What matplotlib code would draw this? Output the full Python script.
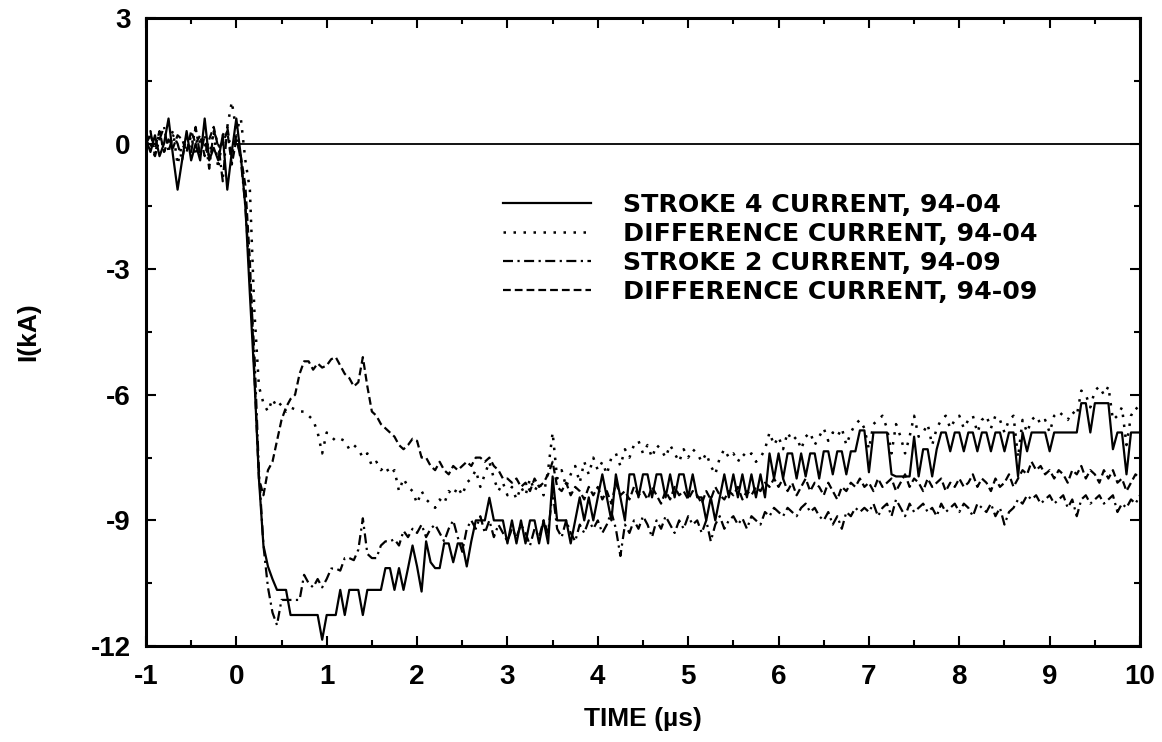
import matplotlib
matplotlib.use("Agg")
import matplotlib.pyplot as plt
import numpy as np
from matplotlib.ticker import MultipleLocator

plt.rcParams['font.family'] = ['Liberation Sans', 'DejaVu Sans']
plt.rcParams['font.weight'] = 'bold'
plt.rcParams['axes.unicode_minus'] = False

# time grid, 0.05 us per sample, -1 .. 10 us
t = np.linspace(-1, 10, 221)

# STROKE 4 CURRENT, 94-04 (solid)
stroke4 = [
    0.1, -0.2, 0.2, -0.3, 0.0, 0.6, -0.3, -1.1, -0.4, 0.3, -0.4, 0.0, -0.4, 0.6, -0.4, -0.1, -0.4, 0.2, -1.1, -0.2,
    0.6, -0.3, -1.5, -3.6, -5.6, -8.0, -9.6, -10.1, -10.4, -10.66, -10.66, -10.66, -11.26, -11.26, -11.26, -11.26, -11.26, -11.26, -11.26, -11.85,
    -11.26, -11.26, -11.26, -10.66, -11.26, -10.66, -10.66, -10.66, -11.26, -10.66, -10.66, -10.66, -10.66, -10.14, -10.14, -10.66, -10.14, -10.66, -10.14, -9.6,
    -10.1, -10.7, -9.5, -10.0, -10.14, -10.14, -9.55, -9.55, -10.0, -9.55, -9.55, -10.1, -9.5, -9.0, -9.0, -9.0, -8.46, -9.0, -9.0, -9.0,
    -9.55, -9.0, -9.55, -9.0, -9.55, -9.0, -9.0, -9.55, -9.0, -9.55, -7.95, -9.0, -9.0, -9.0, -9.55, -9.0, -8.45, -9.0, -8.45, -9.0,
    -8.45, -7.9, -8.45, -9.0, -7.9, -8.45, -9.0, -7.9, -7.9, -8.45, -7.9, -7.9, -8.45, -7.9, -7.9, -8.45, -7.9, -8.45, -7.9, -7.9,
    -8.45, -7.9, -8.45, -8.45, -9.0, -8.45, -9.0, -8.45, -7.9, -8.45, -7.9, -8.45, -7.9, -8.45, -7.9, -8.45, -7.9, -8.45, -7.4, -8.0,
    -7.4, -8.0, -7.4, -7.4, -8.0, -7.4, -7.95, -7.4, -7.4, -8.0, -7.35, -7.35, -7.9, -7.35, -7.35, -7.9, -7.35, -7.35, -6.85, -6.85,
    -7.85, -6.9, -6.9, -6.9, -6.9, -7.9, -7.95, -7.95, -7.95, -7.95, -7.0, -7.95, -7.3, -7.3, -7.95, -7.3, -6.9, -6.9, -7.35, -6.9,
    -6.9, -7.35, -6.9, -6.9, -7.35, -6.9, -6.9, -7.35, -6.9, -6.9, -7.35, -6.9, -6.9, -7.95, -6.9, -7.35, -6.9, -6.9, -6.9, -6.9,
    -7.35, -6.9, -6.9, -6.9, -6.9, -6.9, -6.9, -6.2, -6.2, -6.9, -6.2, -6.2, -6.2, -6.2, -7.3, -6.9, -6.9, -7.9, -6.9, -6.9,
    -6.9,
]

# DIFFERENCE CURRENT, 94-04 (dotted)
diff04 = [
    0.2, 0.0, -0.3, 0.3, -0.2, 0.1, 0.3, -0.5, 0.0, -0.2, 0.2, -0.3, 0.1, 0.0, -0.3, 0.3, -0.6, 0.2, 0.4, 1.0,
    0.3, 0.6, -0.4, -1.1, -4.0, -5.8, -6.2, -6.4, -6.1, -6.3, -6.2, -6.4, -6.3, -6.35, -6.4, -6.4, -6.5, -6.6, -6.9, -7.4,
    -6.9, -7.0, -7.1, -7.05, -7.1, -7.3, -7.2, -7.3, -7.5, -7.4, -7.7, -7.6, -7.8, -7.7, -7.9, -7.8, -8.3, -8.0, -8.2, -8.3,
    -8.6, -8.3, -8.5, -8.6, -8.7, -8.5, -8.6, -8.3, -8.4, -8.2, -8.4, -8.1, -8.0, -7.8, -8.2, -7.9, -7.6, -8.0, -8.3, -8.1,
    -8.4, -8.2, -8.5, -8.2, -8.4, -8.0, -8.3, -8.1, -8.4, -7.8, -6.9, -8.0, -7.8, -8.2, -7.9, -7.7, -8.1, -7.6, -7.9, -7.5,
    -7.8, -7.6, -7.9, -7.5, -7.4, -7.7, -7.3, -7.5, -7.2, -7.1, -7.4, -7.2, -7.5, -7.2, -7.3, -7.5, -7.2, -7.4, -7.6, -7.3,
    -7.5, -7.3, -7.4, -7.6, -7.4, -7.7, -7.9, -7.5, -7.3, -7.5, -7.4, -7.6, -7.4, -7.5, -7.4, -7.6, -7.5, -7.3, -6.9, -7.2,
    -7.0, -7.3, -6.9, -7.1, -7.0, -7.3, -7.0, -6.9, -7.2, -7.0, -6.8, -7.1, -6.9, -7.0, -6.8, -7.2, -6.9, -6.7, -6.6, -6.8,
    -7.3, -6.7, -6.6, -6.5, -6.8, -7.4, -6.7, -7.0, -7.4, -7.0, -6.5, -7.0, -6.9, -6.7, -7.2, -6.8, -6.6, -6.5, -6.8, -6.6,
    -6.5, -6.8, -6.6, -6.5, -6.9, -6.6, -6.5, -6.8, -6.5, -6.6, -6.9, -6.6, -6.5, -7.5, -6.6, -6.9, -6.6, -6.5, -6.7, -6.6,
    -6.9, -6.5, -6.4, -6.5, -6.6, -6.4, -6.5, -5.9, -6.0, -6.3, -5.9, -5.8, -6.0, -5.8, -6.6, -6.5, -6.3, -7.2, -6.5, -6.3,
    -6.4,
]

# STROKE 2 CURRENT, 94-09 (dash-dot)
stroke2 = [
    -0.2, 0.3, -0.3, 0.1, 0.4, -0.2, 0.2, 0.0, -0.4, 0.2, -0.2, 0.4, -0.3, 0.2, -0.6, 0.3, 0.0, -0.9, 0.4, -0.3,
    0.2, -0.4, -1.5, -3.2, -5.0, -7.8, -9.6, -10.6, -11.2, -11.5, -10.9, -10.9, -10.9, -10.9, -10.9, -10.3, -10.5, -10.6, -10.4, -10.6,
    -10.4, -10.15, -10.15, -10.2, -9.9, -9.9, -9.95, -9.7, -8.95, -9.8, -9.9, -9.9, -9.6, -9.5, -9.5, -9.45, -9.6, -9.25, -9.4, -9.2,
    -9.3, -9.1, -9.4, -9.2, -9.1, -9.3, -9.5, -9.2, -9.0, -9.4, -9.75, -9.2, -9.0, -9.2, -8.9, -9.3, -9.0, -9.4, -9.1, -9.3,
    -9.5, -9.2, -9.4, -9.1, -9.3, -9.6, -9.2, -9.4, -9.0, -9.3, -8.3, -9.2, -9.4, -9.0, -9.3, -9.5, -9.1, -9.3, -9.0, -9.2,
    -9.0, -9.3, -9.1, -8.8, -9.2, -9.85, -9.1, -9.3, -9.0, -9.2, -8.9, -9.1, -9.4, -9.0, -9.2, -8.9, -9.1, -9.3, -9.0, -9.2,
    -8.9, -9.1, -9.0, -9.3, -9.0, -9.5, -9.1, -8.9, -9.2, -9.0, -8.9, -9.1, -8.95, -9.2, -8.9, -9.0, -9.1, -8.8, -8.9, -8.7,
    -8.8, -8.9, -8.7, -8.8, -8.9, -8.7, -8.6, -8.8, -8.7, -8.9, -9.0, -8.8, -9.1, -8.9, -9.2, -8.8, -8.9, -8.7, -8.8, -8.7,
    -8.8, -8.6, -8.9, -8.7, -8.6, -8.9, -8.5, -8.7, -8.9, -8.6, -8.8, -8.7, -8.6, -8.8, -8.7, -8.9, -8.6, -8.8, -8.7, -8.6,
    -8.8, -8.6, -8.7, -8.9, -8.6, -8.7, -8.8, -8.6, -8.9, -8.7, -9.1, -8.8, -8.7, -8.5, -8.6, -8.4, -8.5, -8.4, -8.6, -8.5,
    -8.4, -8.6, -8.5, -8.4, -8.7, -8.5, -8.9, -8.5, -8.4, -8.6, -8.5, -8.4, -8.6, -8.5, -8.4, -8.8, -8.6, -8.7, -8.5, -8.6,
    -8.4,
]

# DIFFERENCE CURRENT, 94-09 (dashed)
diff09 = [
    0.0, 0.2, -0.1, 0.3, -0.2, 0.1, -0.1, 0.2, 0.1, -0.2, 0.3, 0.0, 0.2, -0.3, 0.1, 0.4, -0.1, 0.0, 0.3, -0.5,
    0.1, -0.3, -1.0, -2.8, -5.5, -8.0, -8.4, -7.8, -7.6, -7.1, -6.6, -6.3, -6.1, -6.0, -5.5, -5.2, -5.2, -5.4, -5.25, -5.35,
    -5.3, -5.15, -5.1, -5.3, -5.5, -5.6, -5.8, -5.7, -5.1, -5.8, -6.4, -6.5, -6.7, -6.8, -6.9, -7.0, -7.2, -7.3, -7.2, -7.05,
    -7.1, -7.5, -7.5, -7.7, -7.8, -7.6, -7.8, -7.9, -7.7, -7.8, -7.7, -7.6, -7.7, -7.5, -7.5, -7.6, -7.5, -7.7, -7.8, -8.0,
    -8.0, -8.1, -8.0, -8.2, -8.1, -8.3, -8.0, -8.2, -8.1, -7.9, -7.6, -8.2, -8.3, -8.1, -8.4, -8.2, -8.3, -8.5, -8.2, -8.4,
    -8.2, -8.5, -8.3, -8.6, -8.1, -8.4, -8.3, -8.5, -8.2, -8.4, -8.3, -8.5, -8.2, -8.4, -8.6, -8.3, -8.5, -8.2, -8.4, -8.3,
    -8.5, -8.3, -8.4, -8.6, -8.3, -8.5, -8.2, -8.4, -8.5, -8.3, -8.4, -8.2, -8.5, -8.3, -8.4, -8.2, -8.3, -8.1, -8.2, -8.0,
    -8.2, -8.0, -8.3, -8.1, -8.4, -8.2, -8.0, -8.3, -8.1, -8.2, -8.4, -8.1, -8.3, -8.5, -8.2, -8.3, -8.1, -8.2, -8.0, -8.2,
    -8.1, -8.3, -8.0, -8.2, -8.1, -8.0, -8.3, -8.1, -7.9, -8.2, -8.0, -8.1, -8.3, -8.0, -8.2, -8.1, -8.0, -8.3, -8.1, -8.2,
    -8.0, -8.2, -8.1, -7.9, -8.2, -8.0, -8.1, -8.3, -8.0, -8.2, -8.1, -7.9, -8.2, -8.0, -7.8, -7.9, -7.6, -7.8, -7.7, -7.9,
    -7.8, -8.0, -7.8, -7.9, -8.1, -7.8, -7.9, -7.7, -8.0, -7.8, -7.9, -8.1, -7.8, -8.0, -7.8, -8.1, -8.0, -8.3, -8.1, -7.9,
    -8.0,
]

labels = ["STROKE 4 CURRENT, 94-04", "DIFFERENCE CURRENT, 94-04",
          "STROKE 2 CURRENT, 94-09", "DIFFERENCE CURRENT, 94-09"]

fig = plt.figure(figsize=(11.62, 7.42), dpi=100)
ax = fig.add_axes([0.1256, 0.1294, 0.8555, 0.8463])

ax.hlines(0, 0, 10, color='black', lw=1.3)
ax.plot(t, stroke4, color='black', lw=1.6, ls='-', label=labels[0])
ax.plot(t, diff04, color='black', lw=1.8, ls=(0, (1, 3)), label=labels[1])
ax.plot(t, stroke2, color='black', lw=1.6, ls=(0, (4.5, 2, 1, 2)), label=labels[2])
ax.plot(t, diff09, color='black', lw=1.6, ls=(0, (3.5, 1.8)), label=labels[3])

ax.set_xlim(-1, 10)
ax.set_ylim(-12, 3)
ax.xaxis.set_major_locator(MultipleLocator(1))
ax.xaxis.set_minor_locator(MultipleLocator(0.5))
ax.yaxis.set_major_locator(MultipleLocator(3))
ax.yaxis.set_minor_locator(MultipleLocator(1.5))
ax.tick_params(which='both', direction='in', top=True, right=True, width=1.5)
ax.tick_params(which='major', length=7, labelsize=20)
ax.tick_params(which='minor', length=4)
ax.tick_params(axis='x', which='major', pad=13)
ax.tick_params(axis='y', which='major', pad=11)
for s in ax.spines.values():
    s.set_linewidth(2.2)
for lab in ax.get_xticklabels() + ax.get_yticklabels():
    lab.set_fontweight('bold')

ax.set_xlabel("TIME (\u00b5s)", fontsize=19, fontweight='bold', labelpad=12)
ax.set_ylabel("I(kA)", fontsize=19, fontweight='bold', labelpad=36)

leg = ax.legend(loc='upper left', bbox_to_anchor=(0.359, 0.722), frameon=False,
                prop={'family': 'DejaVu Sans', 'weight': 'bold', 'size': 18.2},
                handlelength=3.5, handletextpad=1.25,
                labelspacing=0.2, borderpad=0, borderaxespad=0)

fig.savefig("out.png", dpi=100)
